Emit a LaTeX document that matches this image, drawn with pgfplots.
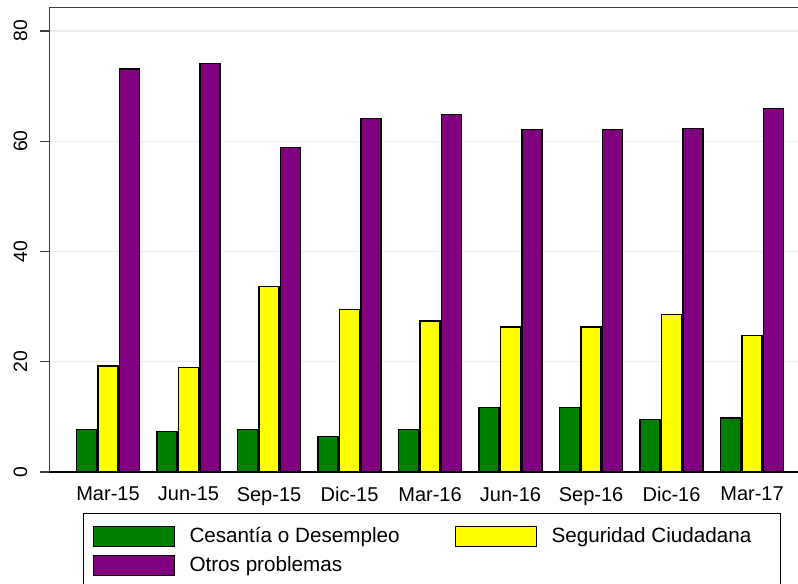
\documentclass[border=0pt]{standalone}
\usepackage{fontspec}
\setmainfont{Liberation Sans}
\usepackage{pgfplots}
\pgfplotsset{compat=1.18}

\definecolor{cgreen}{RGB}{0,128,0}
\definecolor{cyellow}{RGB}{255,255,0}
\definecolor{cpurple}{RGB}{128,0,128}
\definecolor{frame}{RGB}{60,60,60}

\begin{document}
\begin{tikzpicture}
\useasboundingbox (0,0) rectangle (598.5pt,-437.25pt);
\begin{axis}[
    at={(36.75pt,-5.25pt)}, anchor=north west,
    scale only axis,
    width=561.75pt, height=348.75pt,
    xmin=-0.733, xmax=8.571,
    ymin=0, ymax=84.35,
    ybar=1.1pt, bar width=15pt,
    axis line style={draw=none},
    xtick={0,...,8},
    xticklabels={Mar-15,Jun-15,Sep-15,Dic-15,Mar-16,Jun-16,Sep-16,Dic-16,Mar-17},
    x tick style={draw=none},
    xticklabel style={font=\fontsize{15}{18}\selectfont, yshift=-1pt},
    ytick={0,20,40,60,80},
    y tick style={draw=frame, line width=1pt},
    major tick length=6.75pt,
    tick align=outside,
    yticklabel style={font=\fontsize{14.5}{18}\selectfont, rotate=90, anchor=south, yshift=6pt},
    /pgf/number format/assume math mode=true,
    ymajorgrids, grid style={draw=gray!15, line width=1pt},
    legend columns=2,
    legend cell align=left,
    legend style={at={(axis description cs:0.0454,-0.0882)}, anchor=north west,
        draw=black, line width=0.75pt, inner xsep=6.75pt, inner ysep=9pt,
        font=\fontsize{15.5}{18}\selectfont,
        nodes={inner sep=0pt}, column sep=11.25pt, row sep=6pt},
    legend image code/.code={\draw[#1, line width=0.75pt] (0pt,-7.5pt) rectangle (60.75pt,7.5pt);},
    every axis plot/.append style={draw=black, line width=1pt},
]
\addplot[fill=cgreen] coordinates {(0,7.7) (1,7.3) (2,7.7) (3,6.4) (4,7.7) (5,11.7) (6,11.7) (7,9.5) (8,9.8)};
\addlegendentry{\makebox[187.5pt][l]{Cesantía o Desempleo}}
\addplot[fill=cyellow] coordinates {(0,19.2) (1,19.0) (2,33.7) (3,29.5) (4,27.4) (5,26.3) (6,26.3) (7,28.6) (8,24.8)};
\addlegendentry{\makebox[165pt][l]{Seguridad Ciudadana}}
\addplot[fill=cpurple] coordinates {(0,73.1) (1,74.1) (2,58.9) (3,64.1) (4,64.9) (5,62.1) (6,62.1) (7,62.3) (8,66.0)};
\addlegendentry{Otros problemas}
\draw[frame, line width=1.5pt] (rel axis cs:0,0) -- (rel axis cs:0,1) -- (rel axis cs:1,1);
\draw[black, line width=1.5pt] (rel axis cs:0,0) -- (rel axis cs:1,0);
\end{axis}
\end{tikzpicture}
\end{document}
